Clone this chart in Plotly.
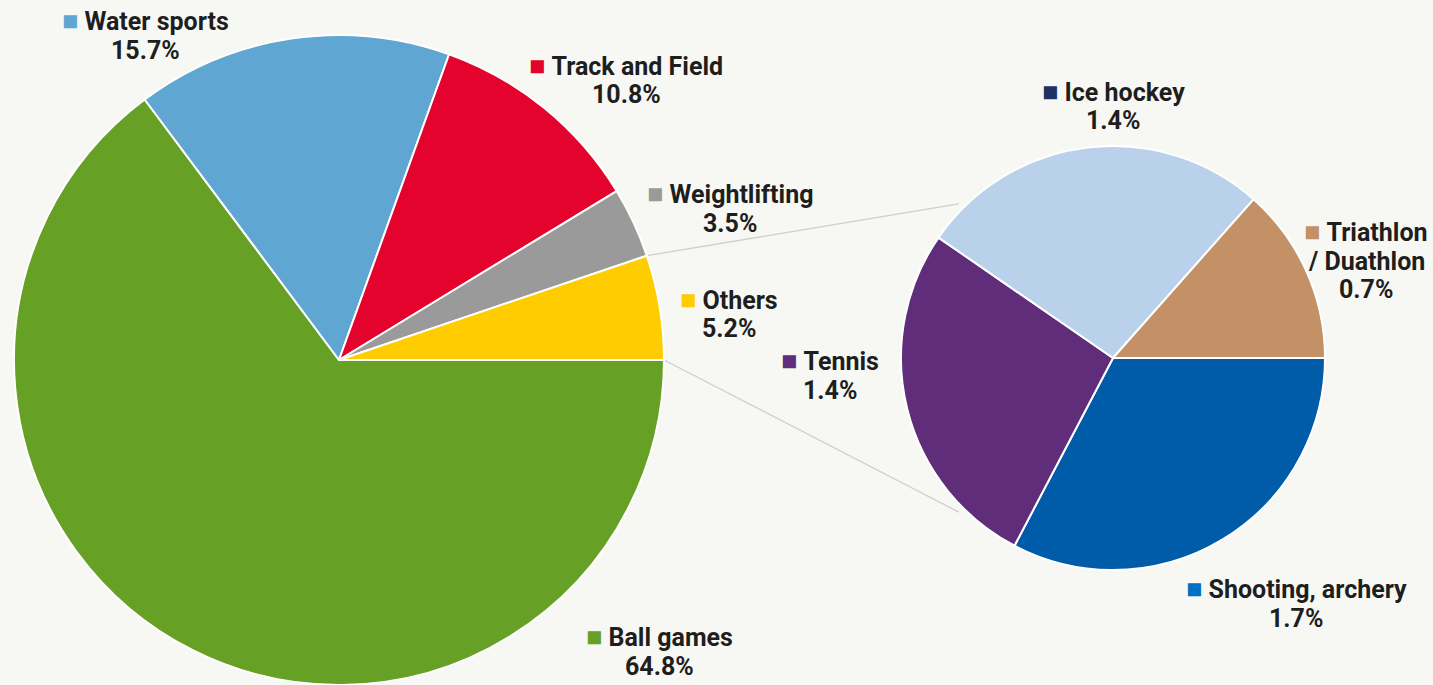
import math
import plotly.graph_objects as go

W, H = 1433, 685

# ---- data ----
main_labels = ["Ball games", "Water sports", "Track and Field", "Weightlifting", "Others"]
main_values = [64.8, 15.7, 10.8, 3.5, 5.2]
main_colors = ["#66a024", "#5fa7d2", "#e3032c", "#9a9a9a", "#ffcc00"]
main_marker_colors = ["#66a024", "#5fa7d2", "#e3032c", "#9a9a9a", "#ffcc00"]

# secondary pie, clockwise from 3 o'clock
sub_labels = ["Shooting, archery", "Tennis", "Ice hockey", "Triathlon / Duathlon"]
sub_values = [1.7, 1.4, 1.4, 0.7]
sub_colors = ["#005ca9", "#5f2d79", "#b9d1ea", "#c49065"]
sub_marker_colors = ["#0070c0", "#5f2d79", "#1c3262", "#c49065"]

# ---- layout config (pixels) ----
BG = "#f7f8f3"
TXT = "#1e1e1e"
FONT = "Roboto"
FS = 25
main_c, main_r = (339, 360), 325
sub_c, sub_r = (1113, 358), 212
LINE_H = 29
# label block centres (x, y of first line) in pixels
label_pos = {
    "Ball games": (659, 637),
    "Water sports": (145, 21),
    "Track and Field": (626, 66),
    "Weightlifting": (730, 194),
    "Others": (729, 300),
    "Triathlon / Duathlon": (1366, 232),
    "Ice hockey": (1113, 92),
    "Tennis": (830, 361),
    "Shooting, archery": (1296, 589),
}
label_lines = {"Triathlon / Duathlon": ["Triathlon", "/ Duathlon"]}


def px(x, y):
    return x / W, 1 - y / H


fig = go.Figure()

fig.add_trace(go.Pie(
    labels=main_labels, values=main_values, sort=False,
    direction="clockwise", rotation=90,
    marker=dict(colors=main_colors, line=dict(color="white", width=2)),
    textinfo="none", hoverinfo="label+percent", showlegend=False,
    domain=dict(x=[(main_c[0] - main_r) / W, (main_c[0] + main_r) / W],
                y=[1 - (main_c[1] + main_r) / H, 1 - (main_c[1] - main_r) / H]),
))
fig.add_trace(go.Pie(
    labels=sub_labels, values=sub_values, sort=False,
    direction="clockwise", rotation=90,
    marker=dict(colors=sub_colors, line=dict(color="white", width=2)),
    textinfo="none", hoverinfo="label+value", showlegend=False,
    domain=dict(x=[(sub_c[0] - sub_r) / W, (sub_c[0] + sub_r) / W],
                y=[1 - (sub_c[1] + sub_r) / H, 1 - (sub_c[1] - sub_r) / H]),
))

# connector lines from the "Others" slice edges to the secondary pie
total = sum(main_values)
others_angle = main_values[-1] / total * 2 * math.pi
starts = [
    (main_c[0] + main_r * math.cos(others_angle), main_c[1] - main_r * math.sin(others_angle)),
    (main_c[0] + main_r, main_c[1]),
]
ends = [
    (sub_c[0] + (sub_r + 6) * math.cos(math.radians(135)), sub_c[1] - (sub_r + 6) * math.sin(math.radians(135))),
    (sub_c[0] + (sub_r + 6) * math.cos(math.radians(225)), sub_c[1] - (sub_r + 6) * math.sin(math.radians(225))),
]
shapes = []
for (x0, y0), (x1, y1) in zip(starts, ends):
    a0, b0 = px(x0, y0)
    a1, b1 = px(x1, y1)
    shapes.append(dict(type="line", xref="paper", yref="paper", x0=a0, y0=b0, x1=a1, y1=b1,
                       line=dict(color="#cfd0cc", width=1.3), layer="below"))

annotations = []
all_items = list(zip(main_labels, main_values, main_marker_colors)) + \
    list(zip(sub_labels, sub_values, sub_marker_colors))
for name, val, col in all_items:
    x, y = label_pos[name]
    lines = label_lines.get(name, [name])
    lines = [f"<span style='color:{col};font-size:27px'>■</span> <b>{lines[0]}</b>"] + \
        [f"<b>{l}</b>" for l in lines[1:]] + [f"<b>{val:.1f}%</b>"]
    for i, t in enumerate(lines):
        ax, ay = px(x, y + i * LINE_H)
        annotations.append(dict(text=t, x=ax, y=ay, xref="paper", yref="paper",
                                xanchor="center", yanchor="middle", showarrow=False,
                                font=dict(family=FONT, size=FS, color=TXT)))

fig.update_layout(
    width=W, height=H, margin=dict(l=0, r=0, t=0, b=0),
    paper_bgcolor=BG, plot_bgcolor=BG,
    shapes=shapes, annotations=annotations,
)

fig.write_html("out.html", config={"displayModeBar": False},
               post_script="document.body.style.margin='0';document.body.style.padding='0';")
